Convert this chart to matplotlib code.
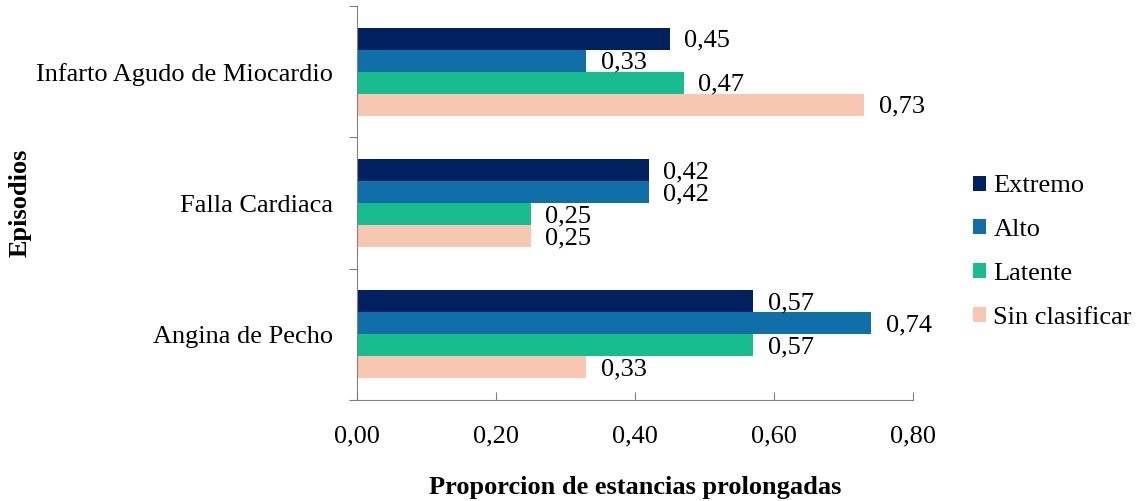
import numpy as np
import matplotlib
matplotlib.use('Agg')
import matplotlib.pyplot as plt

# categories from bottom to top (barh draws from y=0 upward)
episodios = ['Angina de Pecho', 'Falla Cardiaca', 'Infarto Agudo de Miocardio']
series = ['Extremo', 'Alto', 'Latente', 'Sin clasificar']
extremo = [0.57, 0.42, 0.45]
alto = [0.74, 0.42, 0.33]
latente = [0.57, 0.25, 0.47]
sin_clasificar = [0.33, 0.25, 0.73]
colores = ['#002060', '#106EA8', '#17BD8F', '#F8C7B1']

plt.rcParams['font.family'] = ['Liberation Serif', 'DejaVu Serif']
fs = 19

fig = plt.figure(figsize=(11.38, 5.01), dpi=100)
ax = fig.add_axes([0.3137, 0.2016, 0.4886, 0.7864])

valores = [extremo, alto, latente, sin_clasificar]
y = np.arange(len(episodios))
h = 0.168
for i, (nombre, vals, col) in enumerate(zip(series, valores, colores)):
    pos = y + (1.5 - i) * h
    ax.barh(pos, vals, height=h, color=col, label=nombre)
    for p, v in zip(pos, vals):
        ax.annotate(f'{v:.2f}'.replace('.', ','), (v, p), xytext=(10.5, -1.5),
                    textcoords='offset points', va='center', ha='left', fontsize=fs)

ax.set_xlim(0, 0.8)
ax.set_ylim(-0.5, 2.5)
ticks = np.arange(0, 0.81, 0.2)
ax.set_xticks(ticks)
ax.set_xticklabels([f'{t:.2f}'.replace('.', ',') for t in ticks], fontsize=fs)
ax.tick_params(axis='x', direction='in', length=6, color='#808080', pad=18)

ax.set_yticks([-0.5, 0.5, 1.5, 2.5])
ax.set_yticklabels([])
ax.set_yticks(y, minor=True)
ax.set_yticklabels(episodios, minor=True, fontsize=fs)
ax.tick_params(axis='y', which='major', direction='out', length=6, color='#808080')
ax.tick_params(axis='y', which='minor', length=0, pad=17)

for s in ['top', 'right']:
    ax.spines[s].set_visible(False)
for s in ['left', 'bottom']:
    ax.spines[s].set_color('#808080')

ax.set_xlabel('Proporcion de estancias prolongadas', fontsize=fs, fontweight='bold', labelpad=21)
ax.set_ylabel('Episodios', fontsize=fs, fontweight='bold')
ax.yaxis.set_label_coords(-0.585, 0.5)

ax.legend(loc='center left', bbox_to_anchor=(1.108, 0.375), frameon=False, fontsize=fs,
          borderaxespad=0, borderpad=0,
          handlelength=0.5, handleheight=0.5, handletextpad=0.27, labelspacing=0.83)

fig.savefig('out.png', dpi=100)
